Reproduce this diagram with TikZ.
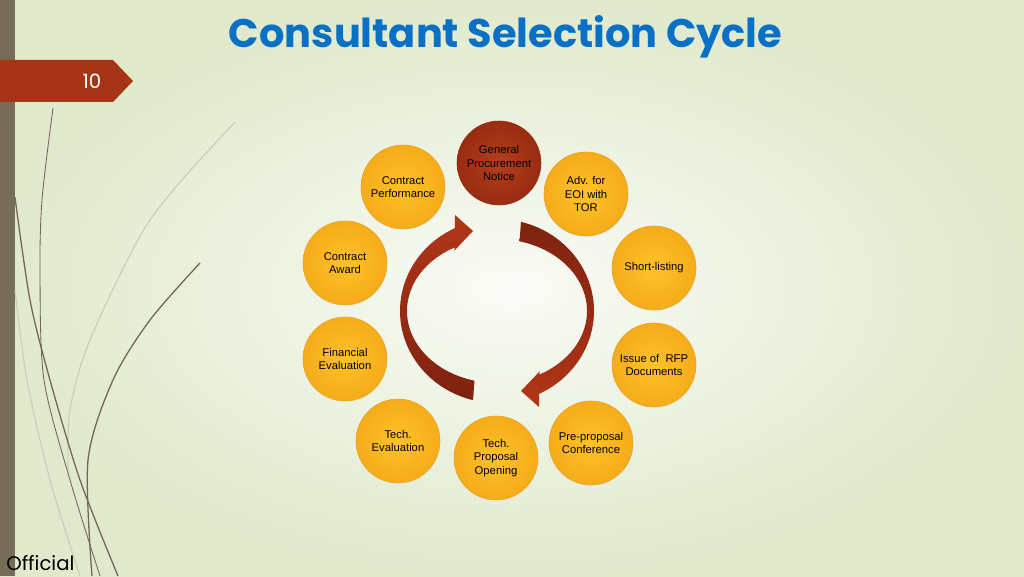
\documentclass[tikz,border=0pt]{standalone}
\usepackage{fontspec}
\setmainfont{Liberation Sans}
\newfontfamily\titlefont{Poppins}
\usepackage{xcolor}
\usetikzlibrary{calc,positioning}
\definecolor{bgout}{RGB}{224,233,204}
\definecolor{bgin}{RGB}{250,251,246}
\definecolor{bar}{RGB}{118,108,88}
\definecolor{tagred}{RGB}{166,52,22}
\definecolor{titleblue}{RGB}{10,112,196}
\definecolor{stagein}{RGB}{254,194,40}
\definecolor{stageout}{RGB}{245,172,26}
\definecolor{stageline}{RGB}{228,164,44}
\definecolor{gpnin}{RGB}{182,62,28}
\definecolor{gpnout}{RGB}{152,44,18}
\definecolor{arrowdark}{RGB}{125,34,16}
\definecolor{arrowlight}{RGB}{178,54,24}
\definecolor{stem}{RGB}{112,102,82}
\definecolor{stemfaint}{RGB}{200,206,182}

\begin{document}
\begin{tikzpicture}[
  stage/.style={circle, minimum size=2.1cm, inner sep=0pt, align=center, draw=stageline, line width=0.4pt, inner color=stagein, outer color=stageout, font=\fontsize{8}{9.6}\selectfont},
  gpnstage/.style={stage, draw=gpnout, inner color=gpnin, outer color=gpnout},
  stemline/.style={draw=stem, line width=0.9pt},
  faintline/.style={draw=stemfaint, line width=0.8pt}
]
\useasboundingbox (0,0) rectangle (25.6,14.4);

% fond
\shade[inner color=bgin, outer color=bgout] (0,0) rectangle (25.6,14.4);
\fill[bar] (0,0) rectangle (0.375,14.4);

% tiges
\draw[faintline] plot[smooth] coordinates {(5.875,11.35) (3.75,8.9) (2.25,5.9) (1.75,4.15) (1.7,2.65)};
\draw[faintline] plot[smooth] coordinates {(0.375,7.15) (0.675,4.9) (1.25,2.4) (2.0,0)};
\draw[stemline, line width=0.6pt] plot[smooth] coordinates {(1.325,11.7) (1.05,9.4) (1.0,7.475) (1.1,4.9) (1.75,2.4) (2.5,0)};
\draw[stemline] plot[smooth] coordinates {(0.375,9.47) (0.75,6.9) (1.25,4.9) (2.0,2.4) (2.95,0)};
\draw[stemline] plot[smooth] coordinates {(5.0,7.825) (3.75,6.4) (2.825,4.9) (2.2,2.9) (2.3,0)};

% numero
\fill[tagred] (0,12.9) -- (2.825,12.9) -- (3.325,12.375) -- (2.825,11.85) -- (0,11.85) -- cycle;
\node[text=white, font=\titlefont\fontsize{14}{14}\selectfont] (num) at (2.3,12.375) {10};

% titre
\node[anchor=base, text=titleblue, font=\titlefont\bfseries\fontsize{28.4}{28.4}\selectfont] (title) at (12.64,13.2) {Consultant Selection Cycle};

% fleches
\coordinate (C) at (12.425,6.625);
\shade[top color=arrowlight, bottom color=arrowdark] ($(C)+(255.7:2.425 and 2.3)$) arc[start angle=255.7, end angle=115.7, x radius=2.425, y radius=2.3] -- (11.375,9.025) -- (11.825,8.625) -- (11.35,8.125) -- ($(C)+(117.8:2.25 and 1.8)$) arc[start angle=117.8, end angle=255.5, x radius=2.25, y radius=1.8] -- cycle;
\shade[top color=arrowdark, bottom color=arrowlight] ($(C)+(75.7:2.425 and 2.3)$) arc[start angle=75.7, end angle=-64.3, x radius=2.425, y radius=2.3] -- (13.475,4.225) -- (13.025,4.625) -- (13.5,5.125) -- ($(C)+(-62.2:2.25 and 1.8)$) arc[start angle=-62.2, end angle=75.5, x radius=2.25, y radius=1.8] -- cycle;

% etapes
\node[gpnstage] (gpn) at (12.475,10.325) {General\\Procurement\\Notice};
\node[stage] (adv) at (14.65,9.55) {Adv. for\\EOI with\\TOR};
\node[stage] (short) at (16.35,7.7) {Short-listing};
\node[stage] (rfp) at (16.35,5.275) {Issue of\ \ RFP\\Documents};
\node[stage] (prepro) at (14.775,3.325) {Pre-proposal\\Conference};
\node[stage] (tpo) at (12.4,2.95) {Tech.\\Proposal\\Opening};
\node[stage] (teval) at (9.95,3.375) {Tech.\\Evaluation};
\node[stage] (feval) at (8.625,5.425) {Financial\\Evaluation};
\node[stage] (award) at (8.625,7.825) {Contract\\Award};
\node[stage] (perf) at (10.075,9.725) {Contract\\Performance};

\node[anchor=base west, inner sep=0pt, font=\titlefont\fontsize{14}{14}\selectfont] (official) at (0.15,0.15) {Official};

\end{tikzpicture}
\end{document}
